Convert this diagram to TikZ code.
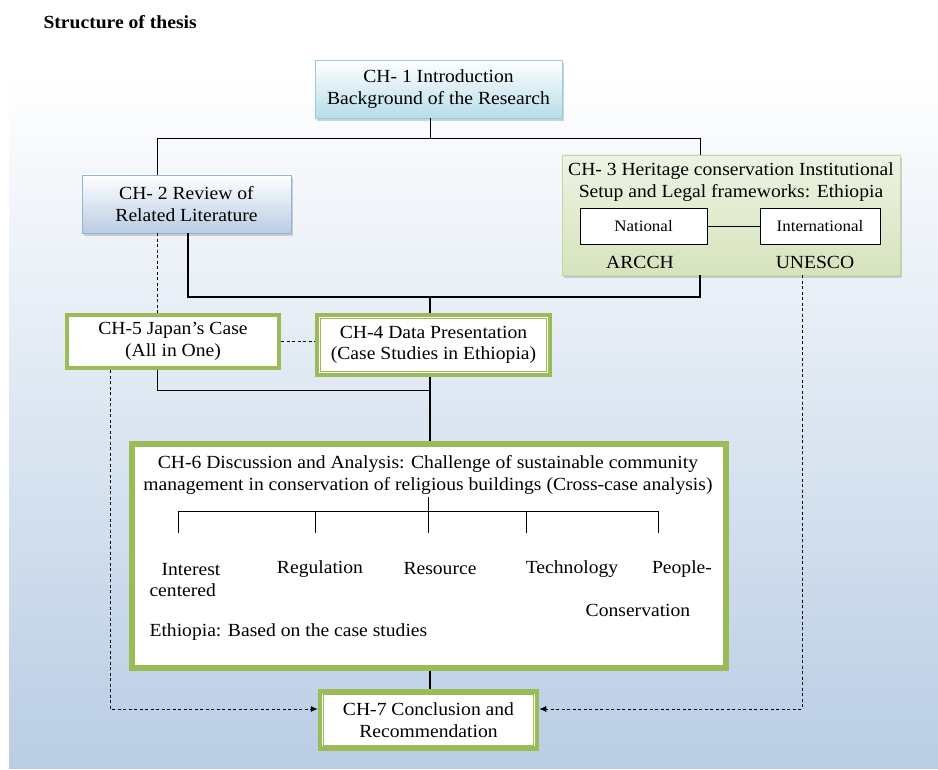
\documentclass[tikz,border=0pt]{standalone}
\usepackage{fontspec}
\setmainfont[FakeStretch=1.06]{Liberation Serif}
\usetikzlibrary{arrows.meta,positioning,calc,shadows}
\definecolor{bgblue}{RGB}{185,205,228}
\definecolor{cyanfill}{RGB}{183,221,232}
\definecolor{cyanline}{RGB}{150,205,220}
\definecolor{bluefill}{RGB}{184,204,228}
\definecolor{blueline}{RGB}{149,179,215}
\definecolor{olivetop}{RGB}{238,243,227}
\definecolor{olivefill}{RGB}{214,227,188}
\definecolor{oliveline}{RGB}{195,214,155}
\definecolor{chgreen}{RGB}{155,187,89}

\begin{document}
\begin{tikzpicture}[x=1pt,y=-1pt,
    font=\fontsize{18.5}{21.5}\selectfont,
    chbox/.style={rectangle, align=center, inner sep=2pt},
    softbox/.style={chbox, drop shadow={shadow xshift=2pt, shadow yshift=-3pt, opacity=0.35}},
    greenbox/.style={chbox, draw=chgreen, line width=4.5pt, fill=white},
    link/.style={line width=0.9pt},
    thicklink/.style={line width=2.4pt},
    dashlink/.style={line width=0.9pt, dash pattern=on 3pt off 2.5pt}]
    \useasboundingbox (0,0) rectangle (938,770);
    \fill[top color=white, bottom color=bgblue] (9,72) rectangle (938,768);
    \node[font=\bfseries\fontsize{18.5}{21.5}\selectfont, anchor=west] (title) at (40,22) {Structure of thesis};

    % chapter boxes
    \node[softbox, draw=cyanline, top color=white, bottom color=cyanfill,
      minimum width=247pt, minimum height=58pt] (ch1) at (438.5,89)
      {CH- 1 Introduction\\Background of the Research};
    \node[softbox, draw=blueline, top color=white, bottom color=bluefill,
      minimum width=209pt, minimum height=58pt] (ch2) at (186.5,204)
      {CH- 2 Review of\\Related Literature};
    \node[softbox, draw=oliveline, top color=olivetop, bottom color=olivefill,
      minimum width=338pt, minimum height=120pt] (ch3) at (731,215) {};
    \node[chbox] (ch3t) at (731,182)
      {CH- 3 Heritage conservation Institutional\\Setup and Legal frameworks: Ethiopia};
    \node[chbox, draw, fill=white, font=\fontsize{16}{19}\selectfont,
      minimum width=127pt, minimum height=36pt] (nat) at (643.5,226) {National};
    \node[chbox, draw, fill=white, font=\fontsize{16}{19}\selectfont,
      minimum width=120pt, minimum height=36pt] (intl) at (820,226) {International};
    \node (arcch) at (640,262) {ARCCH};
    \node (unesco) at (815,262) {UNESCO};

    \node[greenbox, minimum width=212pt, minimum height=53pt] (ch5) at (173,341.5)
      {CH-5 Japan’s Case\\(All in One)};
    \node[greenbox, minimum width=233pt, minimum height=60pt] (ch4) at (433.5,345)
      {CH-4 Data Presentation\\(Case Studies in Ethiopia)};
    \node[greenbox, minimum width=595pt, minimum height=225pt] (ch6) at (429,556) {};
    \node[greenbox, minimum width=217pt, minimum height=57pt] (ch7) at (428.5,720)
      {CH-7 Conclusion and\\Recommendation};
    \foreach \n in {ch4,ch6,ch7}
      \draw[chgreen, line width=0.9pt] ([shift={(5.5,5.5)}]\n.north west) rectangle ([shift={(-5.5,-5.5)}]\n.south east);

    % inside CH-6
    \node[chbox] (t6) at (428,475)
      {CH-6 Discussion and Analysis: Challenge of sustainable community\\
       management in conservation of religious buildings (Cross-case analysis)};
    \node[anchor=west, align=left] (interest) at (146,580) {\hspace{12pt}Interest\\centered};
    \node (regulation) at (320,569) {Regulation};
    \node (resource) at (440,569) {Resource};
    \node (technology) at (572,569) {Technology};
    \node (people) at (682,569) {People-};
    \node (conservation) at (638,610) {Conservation};
    \node[anchor=west] (ethiopia) at (146,632) {Ethiopia: Based on the case studies};
    \coordinate (fork) at (428,511);
    \draw[link] (428,497) -- (fork);
    \draw[link] (178,533) -- (178,511) -- (658,511) -- (658,533);
    \foreach \x in {315,428,526}
      \draw[link] (\x,511) -- (\x,533);

    % connectors
    \coordinate (hub1) at (430,138);
    \coordinate (busA) at (157,138);
    \coordinate (busB) at (700,138);
    \draw[link] (hub1 |- ch1.south) -- (hub1);
    \draw[link] (ch2.north -| busA) -- (busA) -- (busB) -- (ch3.north -| busB);
    \draw[link] (nat) -- (intl);

    \coordinate (busC) at (188,297);
    \coordinate (busD) at (700,297);
    \coordinate (hub2) at (430,297);
    \draw[thicklink] (ch2.south -| busC) -- (busC) -- (busD) -- (ch3.south -| busD);
    \draw[thicklink] (hub2) -- (hub2 |- ch4.north);

    \coordinate (busE) at (157,390);
    \draw[link] (ch5.south -| busE) -- (busE) -- (busE -| hub2);
    \draw[line width=1.5pt] (hub2 |- ch4.south) -- (hub2 |- ch6.north);
    \draw[line width=1.5pt] (hub2 |- ch6.south) -- (hub2 |- ch7.north);

    \draw[dashlink] (ch2.south -| busA) -- (ch5.north -| busA);
    \draw[dashlink] (ch5.east) -- (ch5.east -| ch4.west);
    \coordinate (dl) at (110,709);
    \coordinate (dr) at (802,709);
    \draw[dashlink, -{Latex[length=7pt,width=6pt]}] (ch5.south -| dl) -- (dl) -- (dl -| ch7.west);
    \draw[dashlink, -{Latex[length=7pt,width=6pt]}] (ch3.south -| dr) -- (dr) -- (dr -| ch7.east);
\end{tikzpicture}
\end{document}
